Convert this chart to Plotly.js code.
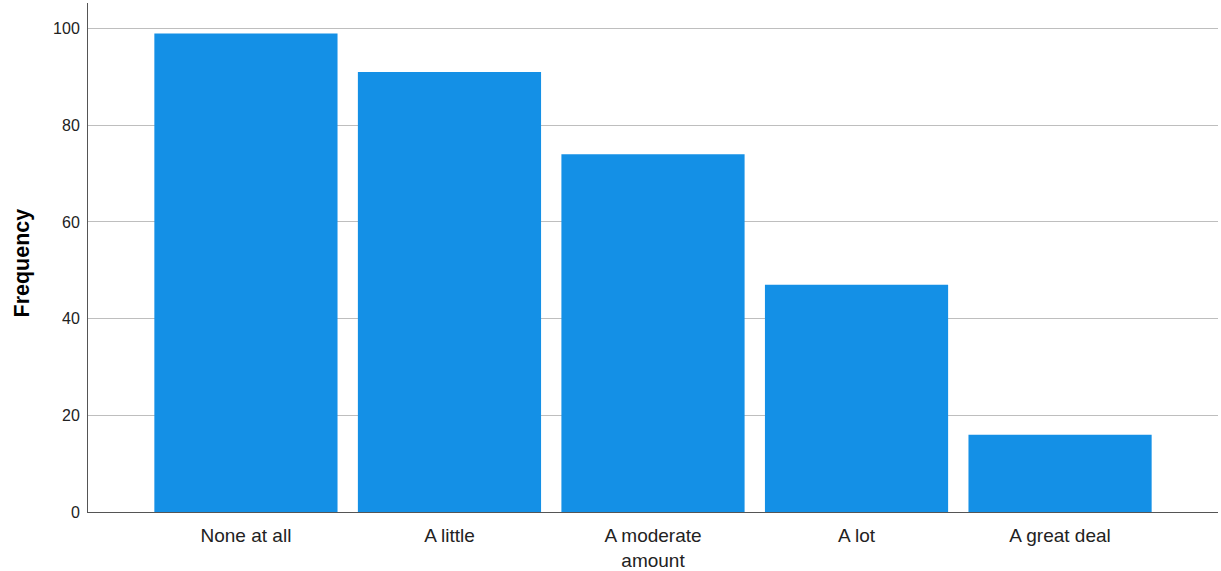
<!DOCTYPE html>
<html>
<head>
<meta charset="utf-8">
<script src="https://cdn.plot.ly/plotly-3.0.1.min.js"></script>
<style>html,body{margin:0;padding:0;background:#fff;}#chart{width:1221px;height:571px;}</style>
</head>
<body>
<div id="chart"></div>
<script>
var categories = ["None at all", "A little", "A moderate<br>amount", "A lot", "A great deal"];
var frequencies = [99, 91, 74, 47, 16];
var yTickValues = [0, 20, 40, 60, 80, 100];
var yAxisTitle = "Frequency";

var trace = {
  type: "bar",
  x: categories,
  y: frequencies,
  marker: {color: "#1490e6", line: {width: 0}},
  hoverinfo: "x+y"
};

var layout = {
  width: 1221,
  height: 571,
  margin: {l: 88, r: 3, t: 3, b: 59},
  paper_bgcolor: "#ffffff",
  plot_bgcolor: "#ffffff",
  bargap: 0.1,
  showlegend: false,
  font: {family: "Liberation Sans, Arial, sans-serif", color: "#222222"},
  xaxis: {
    type: "category",
    range: [-0.776, 4.776],
    showgrid: false,
    zeroline: false,
    showline: true,
    linecolor: "#555555",
    linewidth: 1,
    ticks: "",
    ticklabelstandoff: 6,
    tickfont: {size: 19, color: "#222222"},
    fixedrange: true
  },
  yaxis: {
    range: [0, 105.3],
    tickvals: yTickValues,
    ticktext: yTickValues.map(String),
    showgrid: true,
    gridcolor: "#bebebe",
    gridwidth: 1,
    zeroline: false,
    showline: true,
    linecolor: "#555555",
    linewidth: 1,
    ticks: "",
    ticklabelstandoff: 4,
    tickfont: {size: 16, color: "#222222"},
    fixedrange: true
  },
  annotations: [{
    text: "<b>" + yAxisTitle + "</b>",
    textangle: -90,
    xref: "paper", yref: "paper",
    x: -0.0585, y: 0.49,
    xanchor: "center", yanchor: "middle",
    showarrow: false,
    font: {size: 21.5, color: "#000000", family: "Liberation Sans, Arial, sans-serif"}
  }]
};

Plotly.newPlot("chart", [trace], layout, {displayModeBar: false, staticPlot: true});
</script>
</body>
</html>
